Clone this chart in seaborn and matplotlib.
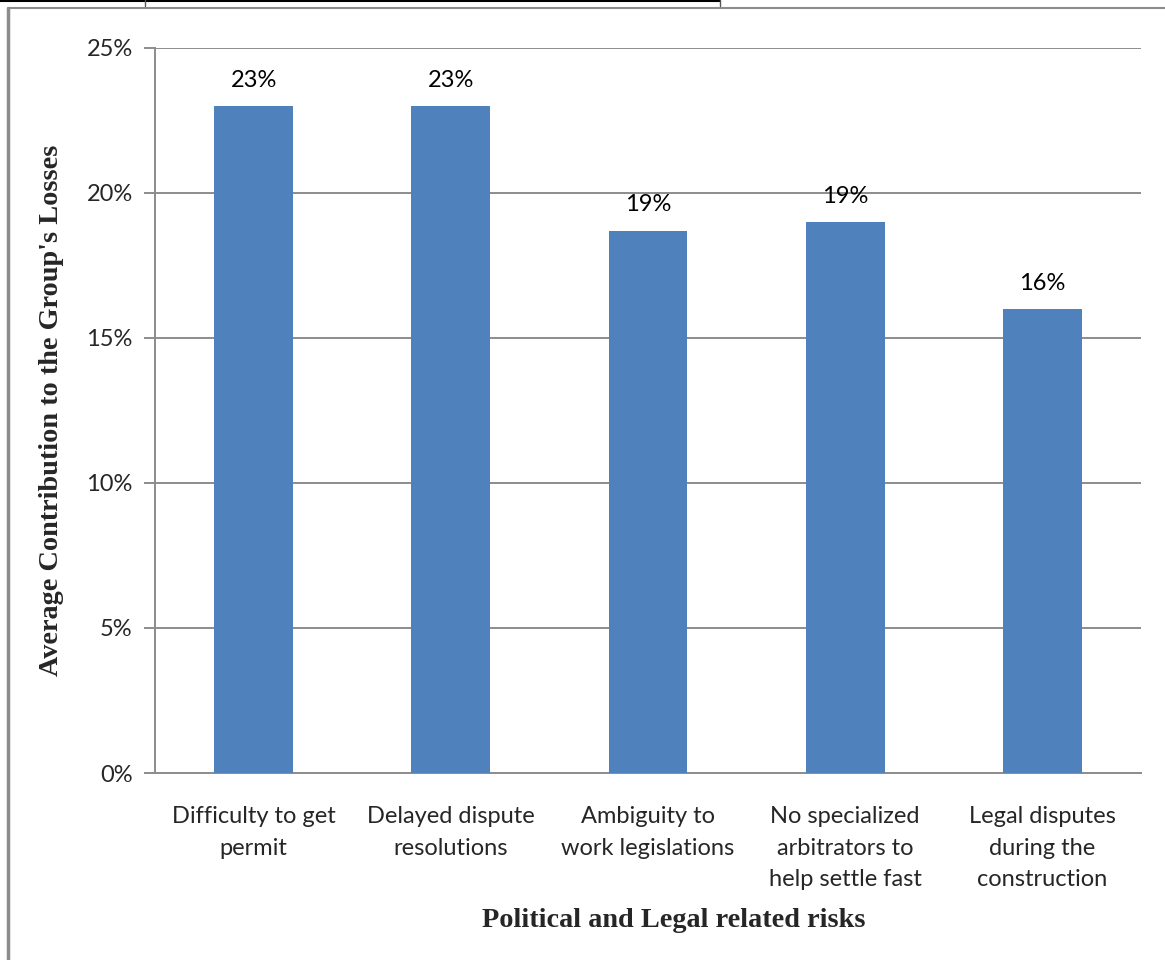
import matplotlib
matplotlib.use("Agg")
import matplotlib.pyplot as plt
from matplotlib.lines import Line2D
from matplotlib.ticker import PercentFormatter
import seaborn as sns
import pandas as pd

# Political and legal risk factors and their average share of losses (%)
categories = [
    "Difficulty to get\npermit",
    "Delayed dispute\nresolutions",
    "Ambiguity to\nwork legislations",
    "No specialized\narbitrators to\nhelp settle fast",
    "Legal disputes\nduring the\nconstruction",
]
values = [23.0, 23.0, 18.7, 19.0, 16.0]

df = pd.DataFrame({"risk": categories, "share": values})

sns.set_theme(style="white")
plt.rcParams["font.family"] = ["Lato", "DejaVu Sans"]

fig = plt.figure(figsize=(11.65, 9.6), dpi=100)
ax = fig.add_axes([155 / 1165, 1 - 773 / 960, (1141 - 155) / 1165, (773 - 48) / 960])

sns.barplot(data=df, x="risk", y="share", color="#4f81bd", width=0.4,
            saturation=1, linewidth=0, ax=ax, zorder=3)

ax.set_ylim(0, 25)
ax.set_xlim(-0.5, len(categories) - 0.5)
ax.set_yticks(range(0, 26, 5))
ax.yaxis.set_major_formatter(PercentFormatter(decimals=0))
ax.yaxis.grid(True, color="#8c8c8c", linewidth=1.4, zorder=0)
ax.set_axisbelow(True)

for s in ["top", "right"]:
    ax.spines[s].set_visible(False)
for s in ["left", "bottom"]:
    ax.spines[s].set_color("#8c8c8c")
    ax.spines[s].set_linewidth(1.4)

ax.tick_params(axis="y", which="major", left=True, length=8, width=1.4,
               color="#8c8c8c", labelsize=17, pad=8)
ax.tick_params(axis="x", bottom=False, labelsize=17, pad=18)
for lbl in ax.get_xticklabels():
    lbl.set_linespacing(1.62)

for p, v in zip(ax.patches, values):
    ax.annotate(f"{v:.0f}%", (p.get_x() + p.get_width() / 2, v),
                xytext=(0, 11), textcoords="offset points",
                ha="center", va="bottom", fontsize=17, color="black")

ax.set_xlabel("Political and Legal related risks", fontsize=20.3,
              fontweight="bold", family="Liberation Serif")
ax.xaxis.set_label_coords(0.526, -0.203)
ax.xaxis.label.set_va("center")
ax.set_ylabel("Average Contribution to the Group's Losses", fontsize=20.3,
              fontweight="bold", family="Liberation Serif", labelpad=16)

# page frame around the chart
fig.add_artist(Line2D([8 / 1165, 1], [1 - 8 / 960] * 2, color="#8c8c8c", lw=1.5))
fig.add_artist(Line2D([8 / 1165] * 2, [0, 1 - 8 / 960], color="#8c8c8c", lw=2.5))
fig.add_artist(Line2D([0, 720 / 1165], [1 - 1 / 960] * 2, color="black", lw=1.5))
fig.add_artist(Line2D([145 / 1165] * 2, [1 - 6 / 960, 1], color="#555555", lw=1))
fig.add_artist(Line2D([720 / 1165] * 2, [1 - 6 / 960, 1], color="#555555", lw=1))

fig.savefig("out.png", dpi=100)
